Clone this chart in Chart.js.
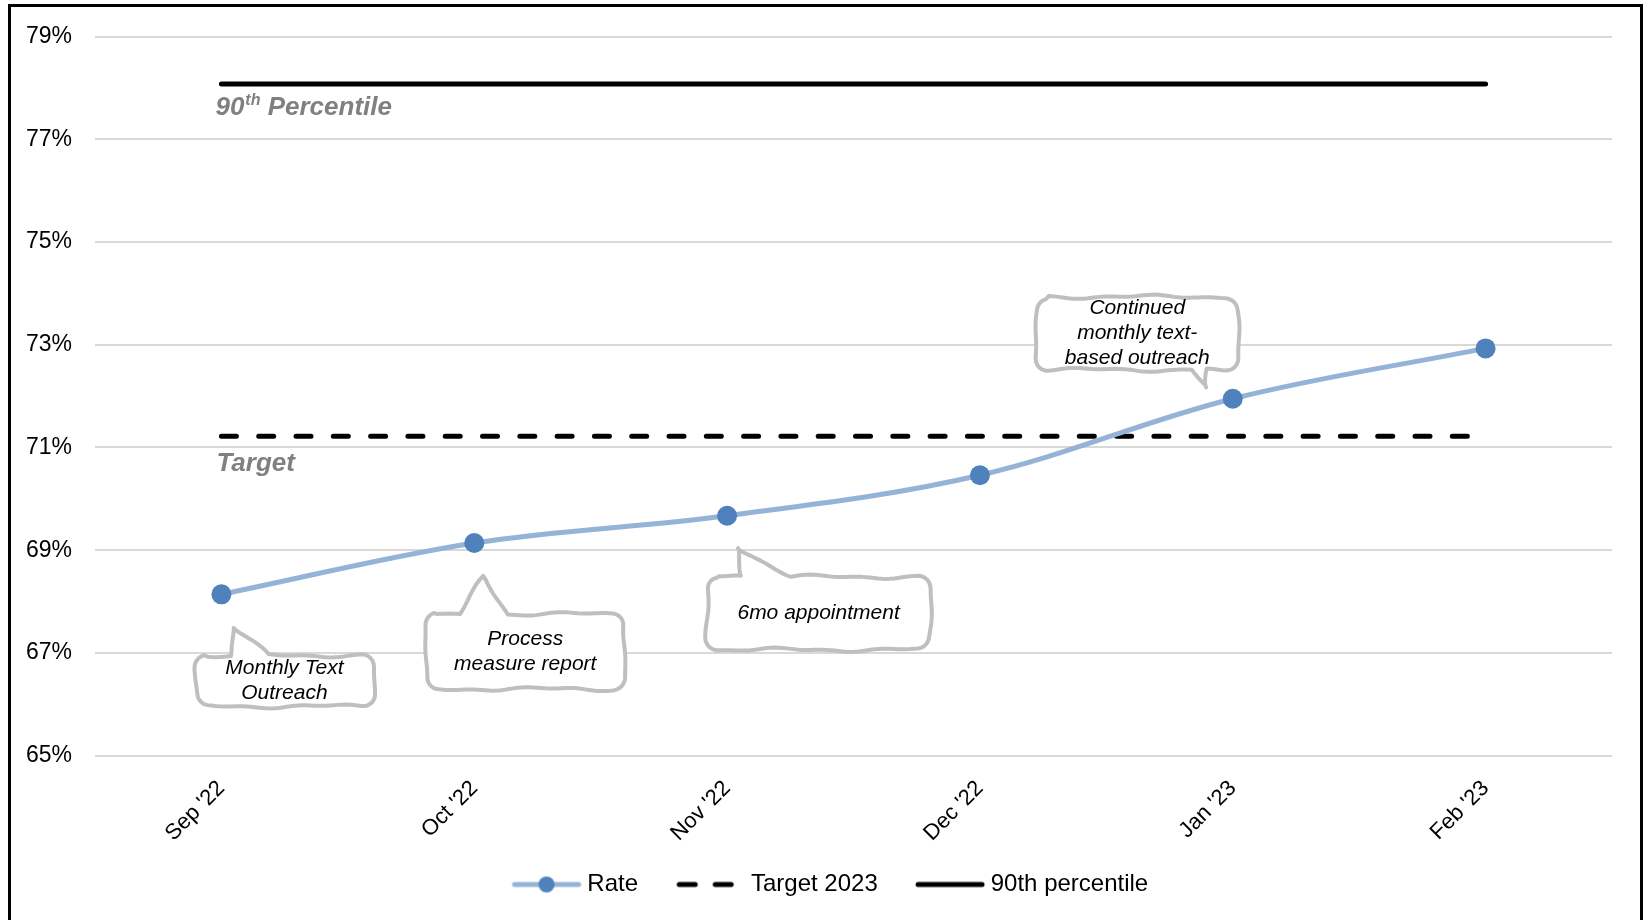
<!DOCTYPE html>
<html>
<head>
<meta charset="utf-8">
<script src="https://cdn.jsdelivr.net/npm/chart.js@4.4.1/dist/chart.umd.min.js"></script>
<style>
html,body{margin:0;padding:0;background:#fff;overflow:hidden;width:1645px;height:920px;}
#wrap{position:absolute;left:0;top:0;width:1645px;height:920px;}
#frame{position:absolute;left:8px;top:4px;width:1635px;height:960px;border:3px solid #000;box-sizing:border-box;pointer-events:none;}
</style>
</head>
<body>
<div id="wrap"><canvas id="c" width="1645" height="920"></canvas></div>
<div id="frame"></div>
<script>
// ---- data ----
const categories = ["Sep '22", "Oct '22", "Nov '22", "Dec '22", "Jan '23", "Feb '23"];
const rateValues = [68.14, 69.14, 69.67, 70.46, 71.95, 72.93];
const targetValues = [71.22, 71.22, 71.22, 71.22, 71.22, 71.22];
const percentile90Values = [78.08, 78.08, 78.08, 78.08, 78.08, 78.08];
const yTickValues = [65, 67, 69, 71, 73, 75, 77, 79];
const legendLabels = ['Rate', 'Target 2023', '90th percentile'];
const lineLabels = ['Target', 'Percentile'];
const calloutTexts = [
  ['Monthly Text', 'Outreach'],
  ['Process', 'measure report'],
  ['6mo appointment'],
  ['Continued', 'monthly text-', 'based outreach']
];
const calloutCategoryIndex = [0, 1, 2, 4];

// ---- styles ----
const FONT = '"Liberation Sans", Arial, sans-serif';
Chart.defaults.font.family = FONT;
Chart.defaults.color = '#000';

const RATE_LINE = '#95B3D7';
const RATE_POINT = '#4F81BD';

// callout geometry relative to the anchored data point (pixels)
const calloutGeom = [
  {box: [-26, 61, 152, 112], tail: {side: 'top', x1: 9, x2: 47, tx: 12, ty: 33}},
  {box: [-49, 71, 151, 146], tail: {side: 'top', x1: -14, x2: 34, tx: 9, ty: 34}},
  {box: [-20, 61, 203, 134], tail: {side: 'top', x1: 15, x2: 63, tx: 10, ty: 31}},
  {box: [-196, -102, 5, -29], tail: {side: 'bottom', x1: -41, x2: -25, tx: -26, ty: -10}}
];

// legend marker images: 104 px wide, visible marker in the right 70 px
function legendImage(kind) {
  const cv = document.createElement('canvas');
  cv.width = 104; cv.height = 24;
  const g = cv.getContext('2d');
  const o = 34;
  g.lineCap = 'round';
  g.lineWidth = 5;
  if (kind === 0) {
    g.strokeStyle = RATE_LINE;
    g.beginPath(); g.moveTo(o + 3, 12); g.lineTo(o + 67, 12); g.stroke();
    g.fillStyle = RATE_POINT;
    g.beginPath(); g.arc(o + 35, 12, 8, 0, Math.PI * 2); g.fill();
  } else if (kind === 1) {
    g.strokeStyle = '#000';
    g.beginPath(); g.moveTo(o + 4, 12); g.lineTo(o + 20, 12); g.moveTo(o + 40, 12); g.lineTo(o + 56, 12); g.stroke();
  } else {
    g.strokeStyle = '#000';
    g.beginPath(); g.moveTo(o + 3, 12); g.lineTo(o + 67, 12); g.stroke();
  }
  return cv;
}
const legendImages = [legendImage(0), legendImage(1), legendImage(2)];

function outlinePoints(L, T, R, B, r, tail) {
  const pts = [];
  const seg = (x0, y0, x1, y1) => {
    const n = Math.max(2, Math.ceil(Math.hypot(x1 - x0, y1 - y0) / 4));
    for (let i = 0; i < n; i++) pts.push([x0 + (x1 - x0) * i / n, y0 + (y1 - y0) * i / n]);
  };
  const arc = (cx, cy, a0, a1) => {
    for (let i = 0; i < 6; i++) { const a = a0 + (a1 - a0) * i / 6; pts.push([cx + r * Math.cos(a), cy + r * Math.sin(a)]); }
  };
  if (tail.side === 'top') {
    seg(L + r, T, tail.x1, T); seg(tail.x1, T, tail.tx, tail.ty); seg(tail.tx, tail.ty, tail.x2, T); seg(tail.x2, T, R - r, T);
  } else seg(L + r, T, R - r, T);
  arc(R - r, T + r, -Math.PI / 2, 0);
  seg(R, T + r, R, B - r);
  arc(R - r, B - r, 0, Math.PI / 2);
  if (tail.side === 'bottom') {
    seg(R - r, B, tail.x2, B); seg(tail.x2, B, tail.tx, tail.ty); seg(tail.tx, tail.ty, tail.x1, B); seg(tail.x1, B, L + r, B);
  } else seg(R - r, B, L + r, B);
  arc(L + r, B - r, Math.PI / 2, Math.PI);
  seg(L, B - r, L, T + r);
  arc(L + r, T + r, Math.PI, Math.PI * 1.5);
  return pts;
}

function wobble(pts, phase) {
  const out = [];
  let s = 0;
  const n = pts.length;
  for (let i = 0; i < n; i++) {
    const p = pts[i], a = pts[(i - 1 + n) % n], b = pts[(i + 1) % n];
    if (i > 0) s += Math.hypot(p[0] - a[0], p[1] - a[1]);
    const dx = b[0] - a[0], dy = b[1] - a[1];
    const len = Math.hypot(dx, dy) || 1;
    const nx = -dy / len, ny = dx / len;
    const off = 1.4 * Math.sin(s / 21 + phase) + 0.8 * Math.sin(s / 8.3 + phase * 1.7);
    out.push([p[0] + nx * off, p[1] + ny * off]);
  }
  return out;
}

const annotationPlugin = {
  id: 'annotations',
  afterDatasetsDraw(chart) {
    const ctx = chart.ctx;
    const xs = chart.scales.x, ys = chart.scales.y;
    // line labels
    ctx.save();
    ctx.fillStyle = '#808080';
    ctx.textBaseline = 'alphabetic';
    ctx.textAlign = 'left';
    const lx = xs.getPixelForValue(0) - 6;
    const py = ys.getPixelForValue(percentile90Values[0]) + 31;
    ctx.font = 'italic bold 26px ' + FONT;
    ctx.fillText('90', lx, py);
    let w = ctx.measureText('90').width;
    ctx.font = 'italic bold 16px ' + FONT;
    ctx.fillText('th', lx + w + 1, py - 10);
    w += ctx.measureText('th').width + 1;
    ctx.font = 'italic bold 26px ' + FONT;
    ctx.fillText(' ' + lineLabels[1], lx + w, py);
    const ty = ys.getPixelForValue(targetValues[0]) + 35;
    ctx.fillText(lineLabels[0], lx + 1, ty);
    ctx.restore();

    // callouts
    calloutTexts.forEach((lines, k) => {
      const idx = calloutCategoryIndex[k];
      const px = xs.getPixelForValue(idx);
      const py0 = ys.getPixelForValue(rateValues[idx]);
      const g = calloutGeom[k];
      const L = px + g.box[0], T = py0 + g.box[1], R = px + g.box[2], B = py0 + g.box[3];
      const tail = {side: g.tail.side, x1: px + g.tail.x1, x2: px + g.tail.x2, tx: px + g.tail.tx, ty: py0 + g.tail.ty};
      const pts = wobble(outlinePoints(L, T, R, B, 12, tail), k * 1.9 + 0.6);
      ctx.save();
      ctx.beginPath();
      ctx.moveTo(pts[0][0], pts[0][1]);
      for (let i = 1; i < pts.length; i++) ctx.lineTo(pts[i][0], pts[i][1]);
      ctx.closePath();
      ctx.fillStyle = '#fff';
      ctx.fill();
      ctx.strokeStyle = '#BFBFBF';
      ctx.lineWidth = 4;
      ctx.lineJoin = 'round';
      ctx.stroke();
      ctx.fillStyle = '#000';
      ctx.font = 'italic 21px ' + FONT;
      ctx.textAlign = 'center';
      ctx.textBaseline = 'middle';
      const cx = (L + R) / 2, cy = (T + B) / 2;
      lines.forEach((t, i) => ctx.fillText(t, cx, cy + (i - (lines.length - 1) / 2) * 25));
      ctx.restore();
    });
  }
};

new Chart(document.getElementById('c'), {
  type: 'line',
  data: {
    labels: categories,
    datasets: [
      {
        label: legendLabels[0], data: rateValues,
        borderColor: RATE_LINE, borderWidth: 5, tension: 0.35,
        pointRadius: 10, pointHoverRadius: 10, pointBorderWidth: 0,
        pointBackgroundColor: RATE_POINT, fill: false, clip: false
      },
      {
        label: legendLabels[1], data: targetValues,
        borderColor: '#000', borderWidth: 5, borderDash: [15, 22.3], borderCapStyle: 'round',
        pointRadius: 0, pointHoverRadius: 0, fill: false, clip: false
      },
      {
        label: legendLabels[2], data: percentile90Values,
        borderColor: '#000', borderWidth: 5, borderCapStyle: 'round',
        pointRadius: 0, pointHoverRadius: 0, fill: false, clip: false
      }
    ]
  },
  options: {
    responsive: false,
    animation: false,
    devicePixelRatio: 1,
    layout: {padding: {left: 20, right: 33, top: 32.5, bottom: 13.5}},
    scales: {
      x: {
        offset: true,
        grid: {display: false, drawTicks: false},
        border: {display: false},
        ticks: {minRotation: 45, maxRotation: 45, padding: 20, font: {size: 22}, color: '#000', autoSkip: false},
        afterFit(scale) { scale.height = 107.5; }
      },
      y: {
        min: yTickValues[0], max: yTickValues[yTickValues.length - 1],
        grid: {color: '#D9D9D9', lineWidth: 2, drawTicks: false},
        border: {display: false},
        afterBuildTicks(scale) { scale.ticks = yTickValues.map(v => ({value: v})); },
        ticks: {padding: 23, font: {size: 23}, color: '#000', callback: v => v + '%'},
        afterFit(scale) { scale.width = 75; }
      }
    },
    plugins: {
      tooltip: {enabled: false},
      legend: {
        position: 'bottom',
        labels: {
          usePointStyle: true,
          pointStyleWidth: 91.5,
          padding: 9.5,
          font: {size: 24},
          color: '#000',
          generateLabels() {
            return legendLabels.map((t, i) => ({
              text: t, pointStyle: legendImages[i], datasetIndex: i, hidden: false,
              lineWidth: 0, fillStyle: 'rgba(0,0,0,0)', strokeStyle: 'rgba(0,0,0,0)', fontColor: '#000'
            }));
          }
        }
      }
    }
  },
  plugins: [annotationPlugin]
});
</script>
</body>
</html>
